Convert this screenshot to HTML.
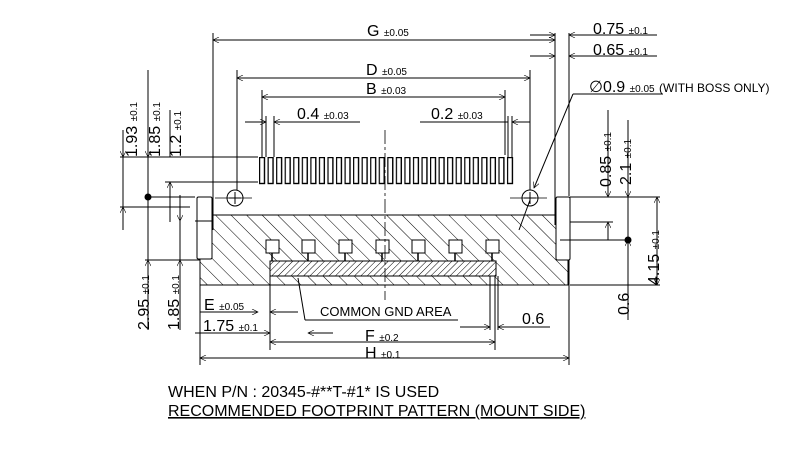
<!DOCTYPE html>
<html><head><style>
html,body{margin:0;padding:0;background:#fff;}
svg{display:block;font-family:"Liberation Sans",Arial,sans-serif;}
text{fill:#000;}
</style></head><body>
<svg width="800" height="450" viewBox="0 0 800 450" xmlns="http://www.w3.org/2000/svg">
<defs>
<pattern id="h1" width="11" height="11" patternUnits="userSpaceOnUse" patternTransform="rotate(-45)">
<line x1="0" y1="0" x2="0" y2="11" stroke="#000" stroke-width="1"/></pattern>
<pattern id="h2" width="4.5" height="4.5" patternUnits="userSpaceOnUse" patternTransform="rotate(45)">
<line x1="0" y1="0" x2="0" y2="4.5" stroke="#000" stroke-width="1"/></pattern>
<pattern id="pins" x="259" y="157" width="8.55" height="30" patternUnits="userSpaceOnUse">
<rect x="0.5" y="0.5" width="5" height="26" fill="#fff" stroke="#000" stroke-width="1.4"/></pattern>
<marker id="a" viewBox="0 0 10 10" refX="10" refY="5" markerWidth="10" markerHeight="6" orient="auto-start-reverse" markerUnits="userSpaceOnUse">
<path d="M0,0 L10,5 L0,10" fill="none" stroke="#000" stroke-width="1"/></marker>
</defs>
<g stroke="#000" stroke-width="1" fill="none">
<rect x="200" y="215" width="368" height="70" fill="url(#h1)" stroke="#000"/>
<rect x="197" y="197" width="15" height="62" fill="#fff" rx="1.5"/>
<rect x="556" y="197" width="14" height="63" fill="#fff" rx="1.5"/>
<rect x="270" y="261" width="226" height="15" fill="#fff"/>
<rect x="270" y="261" width="226" height="15" fill="url(#h2)"/>
<g fill="#fff">
<rect x="266" y="240" width="13" height="13"/><rect x="302" y="240" width="13" height="13"/>
<rect x="339" y="240" width="13" height="13"/><rect x="376" y="240" width="13" height="13"/>
<rect x="412" y="240" width="13" height="13"/><rect x="449" y="240" width="13" height="13"/>
<rect x="486" y="240" width="13" height="13"/>
</g>
<path d="M272,253v8 M308,253v8 M345,253v8 M382,253v8 M418,253v8 M455,253v8 M492,253v8" stroke-width="1.5"/>
<rect x="259" y="157" width="256" height="28" fill="url(#pins)" stroke="none"/>
<circle cx="235" cy="198" r="8" fill="#fff"/><path d="M229,198h12M235,192v12"/>
<circle cx="530" cy="198" r="8" fill="#fff"/><path d="M524,198h12M530,192v12"/>
<g stroke-dasharray="14,3,3,3" stroke-width="0.8">
<line x1="385" y1="130" x2="385" y2="300"/><line x1="215" y1="198" x2="255" y2="198"/>
<line x1="510" y1="198" x2="548" y2="198"/>
</g>
<path d="M213,33V230 M555,33V225 M569,33V196 M237,70V190 M530,70V190 M262,90V157 M505,90V155 M266,116V157 M274,116V157 M508,116V157 M512,116V157"/>
<line x1="213" y1="40" x2="555" y2="40" marker-start="url(#a)" marker-end="url(#a)"/>
<line x1="237" y1="78" x2="530" y2="78" marker-start="url(#a)" marker-end="url(#a)"/>
<line x1="262" y1="97" x2="505" y2="97" marker-start="url(#a)" marker-end="url(#a)"/>
<line x1="245" y1="122" x2="266" y2="122" marker-end="url(#a)"/>
<line x1="274" y1="122" x2="360" y2="122" marker-start="url(#a)"/>
<line x1="420" y1="122" x2="508" y2="122"/>
<line x1="530" y1="122" x2="512" y2="122" marker-end="url(#a)"/>
<line x1="530" y1="35" x2="555" y2="35" marker-end="url(#a)"/>
<line x1="569" y1="35" x2="657" y2="35" marker-start="url(#a)"/>
<line x1="530" y1="56" x2="555" y2="56" marker-end="url(#a)"/>
<line x1="569" y1="56" x2="657" y2="56" marker-start="url(#a)"/>
<path d="M663,94H573"/><line x1="573" y1="94" x2="534" y2="188" marker-end="url(#a)"/>
<line x1="530" y1="200" x2="519" y2="230"/>
<path d="M120,157H258 M165,182H258 M148,197H195 M120,207H190 M195,221H212 M145,260H200"/>
<line x1="123" y1="130" x2="123" y2="157" marker-end="url(#a)"/>
<line x1="123" y1="230" x2="123" y2="207" marker-end="url(#a)"/>
<line x1="123" y1="157" x2="123" y2="207"/>
<line x1="148" y1="70" x2="148" y2="157" marker-end="url(#a)"/>
<line x1="148" y1="157" x2="148" y2="330"/>
<line x1="148" y1="280" x2="148" y2="260" marker-end="url(#a)"/>
<line x1="170" y1="110" x2="170" y2="157"/>
<line x1="170" y1="222" x2="170" y2="182" marker-end="url(#a)"/>
<line x1="180" y1="195" x2="180" y2="221" marker-end="url(#a)"/>
<line x1="180" y1="280" x2="180" y2="260" marker-end="url(#a)"/>
<line x1="180" y1="221" x2="180" y2="330"/>
<path d="M200,285V365 M270,276V350 M495,276V350 M490,276V330 M498,276V330 M569,260V365"/>
<line x1="200" y1="312" x2="258" y2="312" marker-end="url(#a)"/>
<line x1="298" y1="312" x2="270" y2="312" marker-end="url(#a)"/>
<line x1="195" y1="333" x2="270" y2="333" marker-end="url(#a)"/>
<line x1="333" y1="333" x2="308" y2="333" marker-end="url(#a)"/>
<line x1="270" y1="342" x2="495" y2="342" marker-start="url(#a)" marker-end="url(#a)"/>
<line x1="200" y1="358" x2="569" y2="358" marker-start="url(#a)" marker-end="url(#a)"/>
<line x1="460" y1="327" x2="490" y2="327" marker-end="url(#a)"/>
<line x1="550" y1="327" x2="498" y2="327" marker-end="url(#a)"/>
<path d="M305,320H458 M305,320L300,290"/><line x1="300" y1="290" x2="298" y2="278"/>
<path d="M570,197H660 M570,222H613 M560,240H630 M570,285H660"/>
<line x1="608" y1="110" x2="608" y2="197" marker-end="url(#a)"/>
<line x1="608" y1="240" x2="608" y2="222" marker-end="url(#a)"/>
<line x1="628" y1="120" x2="628" y2="197" marker-end="url(#a)"/>
<line x1="628" y1="197" x2="628" y2="240"/>
<line x1="628" y1="290" x2="628" y2="240" marker-end="url(#a)"/>
<line x1="657" y1="197" x2="657" y2="285" marker-start="url(#a)" marker-end="url(#a)"/>
<line x1="628" y1="285" x2="628" y2="320"/>
</g>
<circle cx="148" cy="197" r="3.5" fill="#000"/>
<circle cx="628" cy="240" r="3.5" fill="#000"/>
<g font-size="16">
<text x="367" y="36">G <tspan font-size="10">±0.05</tspan></text>
<text x="366" y="75">D <tspan font-size="10">±0.05</tspan></text>
<text x="366" y="94">B <tspan font-size="10">±0.03</tspan></text>
<text x="297" y="119">0.4 <tspan font-size="10">±0.03</tspan></text>
<text x="431" y="119">0.2 <tspan font-size="10">±0.03</tspan></text>
<text x="593" y="34">0.75 <tspan font-size="10">±0.1</tspan></text>
<text x="593" y="55">0.65 <tspan font-size="10">±0.1</tspan></text>
<text x="589" y="92">∅0.9 <tspan font-size="10">±0.05</tspan> <tspan font-size="12">(WITH BOSS ONLY)</tspan></text>
<text x="204" y="310">E <tspan font-size="10">±0.05</tspan></text>
<text x="203" y="331">1.75 <tspan font-size="10">±0.1</tspan></text>
<text x="365" y="341">F <tspan font-size="10">±0.2</tspan></text>
<text x="365" y="358">H <tspan font-size="10">±0.1</tspan></text>
<text x="320" y="316" font-size="13">COMMON GND AREA</text>
<text x="522" y="324">0.6</text>
<text x="168" y="397" font-size="16">WHEN P/N : 20345-#**T-#1* IS USED</text>
<text x="168" y="416" font-size="16" text-decoration="underline">RECOMMENDED FOOTPRINT PATTERN (MOUNT SIDE)</text>
<text transform="translate(137,157) rotate(-90)">1.93 <tspan font-size="10">±0.1</tspan></text>
<text transform="translate(160,157) rotate(-90)">1.85 <tspan font-size="10">±0.1</tspan></text>
<text transform="translate(181,157) rotate(-90)">1.2 <tspan font-size="10">±0.1</tspan></text>
<text transform="translate(149,330) rotate(-90)">2.95 <tspan font-size="10">±0.1</tspan></text>
<text transform="translate(179,330) rotate(-90)">1.85 <tspan font-size="10">±0.1</tspan></text>
<text transform="translate(611,187) rotate(-90)">0.85 <tspan font-size="10">±0.1</tspan></text>
<text transform="translate(631,185) rotate(-90)">2.1 <tspan font-size="10">±0.1</tspan></text>
<text transform="translate(659,285) rotate(-90)">4.15 <tspan font-size="10">±0.1</tspan></text>
<text transform="translate(629,315) rotate(-90)">0.6</text>
</g>
</svg>
</body></html>
